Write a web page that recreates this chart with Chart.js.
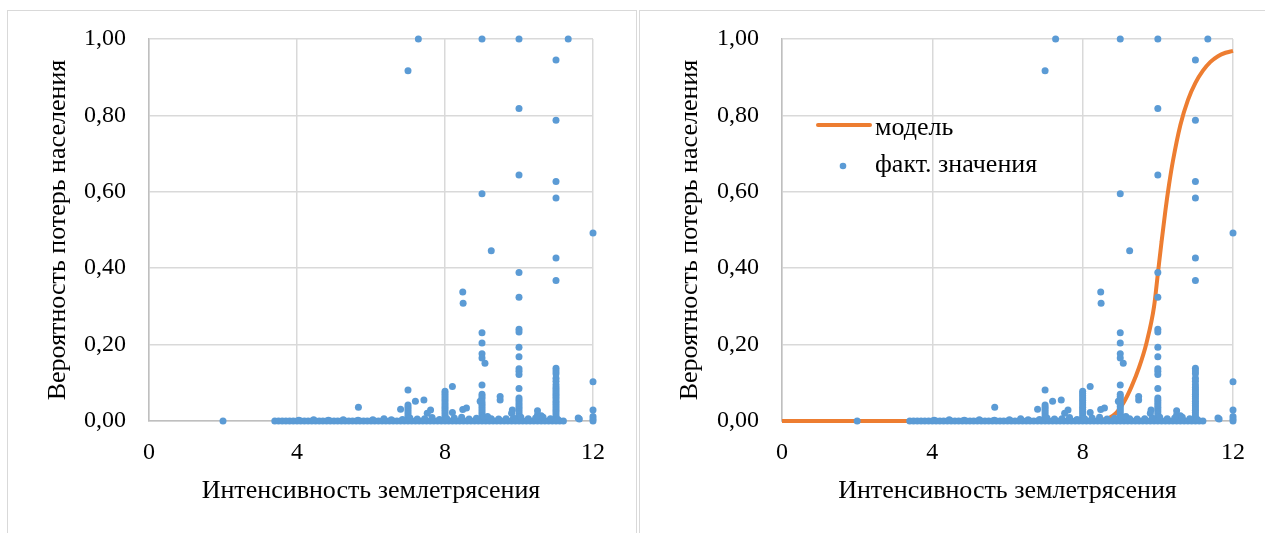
<!DOCTYPE html>
<html><head><meta charset="utf-8">
<script src="https://cdn.jsdelivr.net/npm/chart.js@4.4.1/dist/chart.umd.min.js"></script>
<style>
html,body{margin:0;padding:0;background:#fff;width:1265px;height:533px;overflow:hidden;}
.panel{position:absolute;border:1.5px solid #D9D9D9;box-sizing:border-box;}
canvas{position:absolute;top:0;}
</style></head><body>
<div class="panel" style="left:7px;top:10px;width:630px;height:600px;"></div>
<div class="panel" style="left:639px;top:10px;width:700px;height:600px;"></div>
<canvas id="c1" width="636" height="533" style="left:0px"></canvas>
<canvas id="c2" width="625" height="533" style="left:640px"></canvas>
<script>
// ---- tick labels ----
const xTicks = [0, 4, 8, 12];
const yTickValues = [0, 0.2, 0.4, 0.6, 0.8, 1.0];
const yTickLabels = ['0,00', '0,20', '0,40', '0,60', '0,80', '1,00'];
const xTitle = 'Интенсивность землетрясения';
const yTitle = 'Вероятность потерь населения';
const seriesNames = ['модель', 'факт. значения'];

// ---- isolated observed points ----
const factX = [7.28, 9.0, 10.0, 11.33, 7.0, 11.0, 10.0, 11.0, 10.0, 11.0, 9.0, 11.0, 12.0, 9.25, 11.0, 10.0, 11.0, 8.48, 8.49, 10.0,
  9.0, 10.0, 10.0, 9.0, 10.0, 9.0, 9.0, 9.08, 10.0, 10.0, 10.0, 10.0, 11.0, 11.0, 11.0, 11.0, 11.0, 11.0, 12.0, 9.0,
  10.0, 7.0, 8.2, 5.66, 6.8, 7.2, 7.43, 7.61, 7.52, 8.2, 8.48, 8.58, 8.95, 9.49, 9.49, 9.82, 9.8, 10.5, 10.5, 10.6,
  11.63, 11.6, 12.0, 12.0, 12.0, 12.0, 2.0];
const factY = [1.0, 1.0, 1.0, 1.0, 0.917, 0.945, 0.818, 0.787, 0.644, 0.627, 0.595, 0.584, 0.492, 0.446, 0.427, 0.389, 0.368, 0.338, 0.308, 0.324,
  0.231, 0.240, 0.233, 0.204, 0.193, 0.176, 0.165, 0.151, 0.168, 0.137, 0.130, 0.122, 0.138, 0.131, 0.124, 0.112, 0.104, 0.095, 0.103, 0.094,
  0.085, 0.081, 0.090, 0.036, 0.031, 0.052, 0.055, 0.029, 0.020, 0.022, 0.030, 0.034, 0.052, 0.064, 0.055, 0.029, 0.020, 0.027, 0.016, 0.014,
  0.005, 0.008, 0.029, 0.012, 0.005, 0.0, 0.0];

// ---- stacked columns at whole intensities ----
const colX = [7, 7, 7, 7, 7, 7, 7,
  8, 8, 8, 8, 8, 8, 8, 8, 8, 8, 8, 8, 8,
  9, 9, 9, 9, 9, 9, 9, 9, 9, 9, 9,
  10, 10, 10, 10, 10, 10, 10, 10, 10, 10,
  11, 11, 11, 11, 11, 11, 11, 11, 11, 11, 11, 11, 11, 11, 11];
const colY = [0.042, 0.036, 0.030, 0.024, 0.018, 0.012, 0.006,
  0.078, 0.072, 0.066, 0.060, 0.054, 0.048, 0.042, 0.036, 0.030, 0.024, 0.018, 0.012, 0.006,
  0.070, 0.064, 0.058, 0.050, 0.044, 0.038, 0.032, 0.026, 0.020, 0.014, 0.008,
  0.060, 0.054, 0.048, 0.042, 0.036, 0.030, 0.024, 0.018, 0.012, 0.006,
  0.088, 0.082, 0.076, 0.070, 0.064, 0.058, 0.052, 0.046, 0.040, 0.034, 0.028, 0.022, 0.016, 0.010, 0.004];

// ---- dense band of near-zero values ----
const bandX = [3.4, 3.5, 3.6, 3.7, 3.8, 3.9, 4.0, 4.1, 4.2, 4.3, 4.4, 4.5, 4.6, 4.7, 4.8, 4.9, 5.0, 5.1, 5.2, 5.3,
  5.4, 5.5, 5.6, 5.7, 5.8, 5.9, 6.0, 6.1, 6.2, 6.3, 6.4, 6.5, 6.6, 6.7, 6.8, 6.9, 7.0, 7.1, 7.2, 7.3,
  7.4, 7.5, 7.6, 7.7, 7.8, 7.9, 8.0, 8.1, 8.2, 8.3, 8.4, 8.5, 8.6, 8.7, 8.8, 8.9, 9.0, 9.1, 9.2, 9.3,
  9.4, 9.5, 9.6, 9.7, 9.8, 9.9, 10.0, 10.1, 10.2, 10.3, 10.4, 10.5, 10.6, 10.7, 10.8, 10.9, 11.0, 11.1, 11.2];
const band2X = [4.05, 4.45, 4.85, 5.25, 5.65, 6.05, 6.35, 6.55, 6.85, 7.05, 7.25, 7.45, 7.65, 7.85, 8.05, 8.25, 8.45, 8.65, 8.85, 9.05,
  9.15, 9.25, 9.45, 9.65, 9.85, 10.05, 10.25, 10.45, 10.65, 10.85, 11.05];
const band2Y = [0.002, 0.003, 0.002, 0.003, 0.002, 0.003, 0.006, 0.003, 0.004, 0.008, 0.005, 0.006, 0.009, 0.004, 0.006, 0.008, 0.010, 0.005, 0.007, 0.010,
  0.012, 0.006, 0.005, 0.006, 0.008, 0.010, 0.006, 0.008, 0.010, 0.006, 0.004];

// ---- model curve ----
const modelX = [0, 1, 2, 3, 4, 5, 6, 7, 8, 8.5, 8.7, 8.9, 9.1, 9.3, 9.5, 9.7, 9.9, 10.0, 10.1, 10.2, 10.3, 10.4, 10.6, 10.8, 11.0, 11.2, 11.4, 11.6, 11.8, 12.0];
const modelY = [0, 0, 0, 0, 0, 0, 0, 0, 0.001, 0.003, 0.008, 0.022, 0.050, 0.090, 0.140, 0.205, 0.300, 0.385, 0.470, 0.550, 0.620, 0.680, 0.775, 0.840, 0.885, 0.917, 0.940, 0.955, 0.964, 0.969];

function pts(xs, ys) { return xs.map((x, i) => ({x: x, y: ys[i]})); }
const factPoints = pts(factX, factY)
  .concat(pts(colX, colY))
  .concat(pts(bandX, bandX.map(() => 0)))
  .concat(pts(band2X, band2Y));
const modelPoints = pts(modelX, modelY);

const BLUE = '#5B9BD5', ORANGE = '#ED7D31';
const FONT = '"Liberation Serif", "Times New Roman", serif';
Chart.defaults.font.family = FONT;
Chart.defaults.font.size = 24;
Chart.defaults.color = '#000';

function makeScales(yWidth, yTitlePad) {
  return {
    x: {
      type: 'linear', min: 0, max: 12,
      afterBuildTicks: s => { s.ticks = xTicks.map(v => ({value: v})); },
      ticks: {padding: 17, color: '#000', font: {size: 24}, callback: v => String(v)},
      grid: {color: '#D9D9D9', lineWidth: 1.5, drawTicks: false},
      border: {color: '#BFBFBF', width: 1.5},
      title: {display: true, text: xTitle, color: '#000', font: {size: 26}, padding: {top: 0, bottom: 26.4}},
      afterFit: s => { s.height = 112; }
    },
    y: {
      type: 'linear', min: 0, max: 1,
      afterBuildTicks: s => { s.ticks = yTickValues.map(v => ({value: v})); },
      ticks: {padding: 23, color: '#000', font: {size: 24}, callback: (v, i) => yTickLabels[i]},
      grid: {color: '#D9D9D9', lineWidth: 1.5, drawTicks: false},
      border: {color: '#BFBFBF', width: 1.5},
      title: {display: true, text: yTitle, color: '#000', font: {size: 26}, padding: {top: yTitlePad, bottom: 0}},
      afterFit: s => { s.width = yWidth; }
    }
  };
}

const scatterSet = {
  label: seriesNames[1], data: factPoints, backgroundColor: BLUE, borderWidth: 0,
  pointRadius: 3.5, pointHoverRadius: 3.5, showLine: false, clip: false, order: 0
};

new Chart(document.getElementById('c1'), {
  type: 'scatter',
  data: {datasets: [scatterSet]},
  options: {
    responsive: false, animation: false, events: [],
    layout: {padding: {left: 0, top: 39, right: 43, bottom: 0}},
    plugins: {legend: {display: false}, tooltip: {enabled: false}},
    scales: makeScales(149, 42.4)
  }
});

const legendPlugin = {
  id: 'insideLegend',
  afterDatasetsDraw(chart) {
    const ctx = chart.ctx;
    ctx.save();
    ctx.strokeStyle = ORANGE; ctx.lineWidth = 4; ctx.lineCap = 'round';
    ctx.beginPath(); ctx.moveTo(178, 125); ctx.lineTo(230, 125); ctx.stroke();
    ctx.fillStyle = BLUE;
    ctx.beginPath(); ctx.arc(203, 166, 3.3, 0, Math.PI * 2); ctx.fill();
    ctx.fillStyle = '#000';
    ctx.font = '26px ' + FONT;
    ctx.textBaseline = 'alphabetic'; ctx.textAlign = 'left';
    ctx.fillText(seriesNames[0], 235, 135);
    ctx.fillText(seriesNames[1], 235, 172);
    ctx.restore();
  }
};

new Chart(document.getElementById('c2'), {
  type: 'scatter',
  data: {datasets: [
    Object.assign({}, scatterSet, {data: factPoints}),
    {label: seriesNames[0], data: modelPoints, showLine: true, borderColor: ORANGE, backgroundColor: ORANGE,
     borderWidth: 4, pointRadius: 0, pointHoverRadius: 0, cubicInterpolationMode: 'monotone', clip: false, order: 1}
  ]},
  options: {
    responsive: false, animation: false, events: [],
    layout: {padding: {left: 0, top: 39, right: 32, bottom: 0}},
    plugins: {legend: {display: false}, tooltip: {enabled: false}},
    scales: makeScales(142, 34.4)
  },
  plugins: [legendPlugin]
});
</script>
</body></html>
